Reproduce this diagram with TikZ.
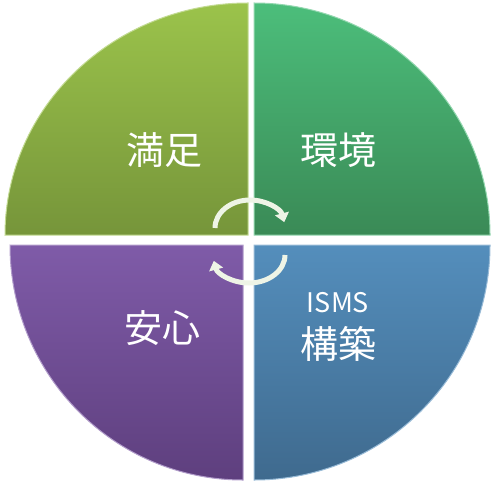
\documentclass[tikz,border=0pt]{standalone}
\usepackage{fontspec}
\newfontfamily\cjk{Noto Sans CJK JP}
\usetikzlibrary{arrows.meta}
\definecolor{manzoku}{HTML}{9BC34B}
\definecolor{manzokuD}{HTML}{76953A}
\definecolor{kankyo}{HTML}{4CBE7B}
\definecolor{kankyoD}{HTML}{3A8A56}
\definecolor{kouchiku}{HTML}{548EBC}
\definecolor{kouchikuD}{HTML}{3F6A8E}
\definecolor{anshin}{HTML}{7F5BA8}
\definecolor{anshinD}{HTML}{5E3F7E}
\definecolor{cyc}{HTML}{EEF4E6}
\begin{document}
\begin{tikzpicture}[x=1pt,y=1pt]
      \tikzset{label/.style={text=white, font=\cjk\fontsize{38}{40}\selectfont, inner sep=0pt},
               cycle/.style={line width=5pt, cyc, -{Triangle[length=9pt,width=14pt]}}}
      \useasboundingbox (0,0) rectangle (494,488);
%% Quarters
      	\shade[top color=manzoku, bottom color=manzokuD, draw=manzoku!60!white, line width=1pt]
      	   (248,253) -- (5,253) arc[start angle=180, end angle=90, x radius=243, y radius=232] -- cycle;
      	\shade[top color=kankyo, bottom color=kankyoD, draw=kankyo!60!white, line width=1pt]
      	   (254,253) -- (254,485) arc[start angle=90, end angle=0, x radius=236, y radius=232] -- cycle;
      	\shade[top color=kouchiku, bottom color=kouchikuD, draw=kouchiku!60!white, line width=1pt]
      	   (254,243) -- (490,243) arc[start angle=0, end angle=-90, x radius=236, y radius=235] -- cycle;
      	\shade[top color=anshin, bottom color=anshinD, draw=anshin!60!white, line width=1pt]
      	   (243,243) -- (243,8) arc[start angle=-90, end angle=-180, x radius=233, y radius=235] -- cycle;
%Labels
		\node[label] (manzoku) at (164,338) {満足};
		\node[label] (kankyo) at (338,338) {環境};
		\node[label] (anshin) at (162,160) {安心};
		\node[label, font=\cjk\fontsize{27}{29}\selectfont] (isms) at (338,185) {ISMS};
		\node[label] (kouchiku) at (338,144) {構築};
%Cycle arrows
		\draw[cycle] (215,260) arc[start angle=180, end angle=12, x radius=35, y radius=28];
		\draw[cycle] (285,233) arc[start angle=0, end angle=-168, x radius=36, y radius=28];
	\end{tikzpicture}
\end{document}
